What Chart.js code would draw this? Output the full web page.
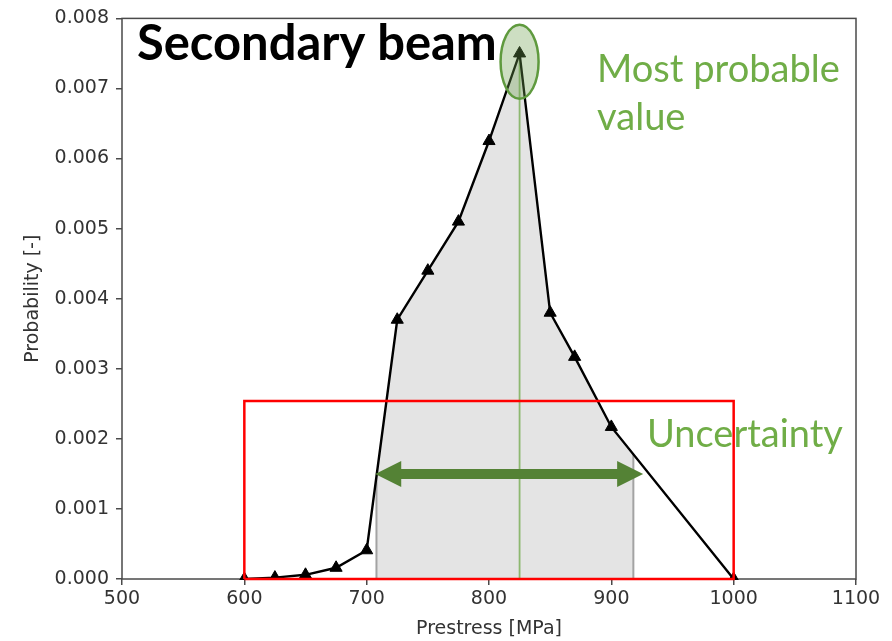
<!DOCTYPE html>
<html>
<head>
<meta charset="utf-8">
<script src="https://cdn.jsdelivr.net/npm/chart.js@4/dist/chart.umd.min.js"></script>
<style>
  html, body { margin: 0; padding: 0; background: #fff; }
  #wrap { width: 892px; height: 641px; }
</style>
</head>
<body>
<div id="wrap"><canvas id="chart" width="892" height="641"></canvas></div>
<script>
// --- data ---
const prestress = [600, 625, 650, 675, 700, 725, 750, 775, 800, 825, 850, 870, 900, 1000];
const probability = [0, 0.00002, 0.00006, 0.00016, 0.00041, 0.0037, 0.0044, 0.0051, 0.00625, 0.0075, 0.0038, 0.00317, 0.00217, 0];
const xTicks = [500, 600, 700, 800, 900, 1000, 1100];
const yTicks = [0, 0.001, 0.002, 0.003, 0.004, 0.005, 0.006, 0.007, 0.008];

// annotations (in data units)
const shadeRange = [708, 918];
const modeValue = 825;
const boxX = [600, 1000];
const boxY = [0, 0.00254];
const arrowX = [707, 926];
const arrowY = 0.0015;
const ellipseAt = [825, 0.00738];

const tickFont = { family: 'DejaVu Sans', size: 19 };

function fitSize(ctx, text, weight, family, width) {
  ctx.font = `${weight} 100px ${family}`;
  return 100 * width / ctx.measureText(text).width;
}

// grey shaded band under the curve + edge lines + mode line
const shadePlugin = {
  id: 'shade',
  beforeDatasetsDraw(chart) {
    const { ctx, chartArea } = chart;
    const xs = chart.scales.x, ys = chart.scales.y;
    const pts = chart.getDatasetMeta(1).data;
    const base = ys.getPixelForValue(0);

    ctx.save();
    ctx.beginPath();
    ctx.moveTo(pts[0].x, base);
    pts.forEach(p => ctx.lineTo(p.x, p.y));
    ctx.lineTo(pts[pts.length - 1].x, base);
    ctx.closePath();
    ctx.clip();

    const xa = xs.getPixelForValue(shadeRange[0]);
    const xb = xs.getPixelForValue(shadeRange[1]);
    ctx.fillStyle = '#e4e4e4';
    ctx.fillRect(xa, chartArea.top, xb - xa, base - chartArea.top);

    ctx.strokeStyle = '#a3a3a3';
    ctx.lineWidth = 2;
    [xa, xb].forEach(x => {
      ctx.beginPath();
      ctx.moveTo(x, base);
      ctx.lineTo(x, chartArea.top);
      ctx.stroke();
    });

    const xm = xs.getPixelForValue(modeValue);
    ctx.strokeStyle = '#8db870';
    ctx.lineWidth = 1.8;
    ctx.beginPath();
    ctx.moveTo(xm, base);
    ctx.lineTo(xm, chartArea.top);
    ctx.stroke();
    ctx.restore();

    // frame round the plot
    ctx.save();
    ctx.strokeStyle = '#4a4a4a';
    ctx.lineWidth = 1.5;
    ctx.strokeRect(chartArea.left, chartArea.top, chartArea.right - chartArea.left, chartArea.bottom - chartArea.top);
    ctx.restore();
  }
};

// ellipse, arrow and labels on top
const overlayPlugin = {
  id: 'overlay',
  afterDatasetsDraw(chart) {
    const { ctx } = chart;
    const xs = chart.scales.x, ys = chart.scales.y;
    ctx.save();

    // ellipse round the peak
    const ex = xs.getPixelForValue(ellipseAt[0]);
    const ey = ys.getPixelForValue(ellipseAt[1]);
    ctx.beginPath();
    ctx.ellipse(ex, ey, 19, 37, 0, 0, Math.PI * 2);
    ctx.fillStyle = 'rgba(112, 160, 80, 0.35)';
    ctx.fill();
    ctx.strokeStyle = '#5f9a3e';
    ctx.lineWidth = 2.5;
    ctx.stroke();

    // double arrow
    const x1 = xs.getPixelForValue(arrowX[0]);
    const x2 = xs.getPixelForValue(arrowX[1]);
    const y = ys.getPixelForValue(arrowY);
    const hl = 26, hh = 13, sh = 5;
    ctx.beginPath();
    ctx.moveTo(x1, y);
    ctx.lineTo(x1 + hl, y - hh);
    ctx.lineTo(x1 + hl, y - sh);
    ctx.lineTo(x2 - hl, y - sh);
    ctx.lineTo(x2 - hl, y - hh);
    ctx.lineTo(x2, y);
    ctx.lineTo(x2 - hl, y + hh);
    ctx.lineTo(x2 - hl, y + sh);
    ctx.lineTo(x1 + hl, y + sh);
    ctx.lineTo(x1 + hl, y + hh);
    ctx.closePath();
    ctx.fillStyle = '#548235';
    ctx.fill();

    // text
    ctx.textBaseline = 'alphabetic';
    ctx.textAlign = 'left';
    let s = fitSize(ctx, 'Secondary beam', 'bold', 'Lato', 360);
    ctx.font = `bold ${s}px Lato`;
    ctx.fillStyle = '#000';
    ctx.fillText('Secondary beam', 137, 60);

    ctx.fillStyle = '#70ad47';
    s = fitSize(ctx, 'Most probable', 'normal', 'Lato', 243);
    ctx.font = `${s}px Lato`;
    ctx.fillText('Most probable', 597, 82);
    ctx.fillText('value', 597, 130);

    s = fitSize(ctx, 'Uncertainty', 'normal', 'Lato', 196);
    ctx.font = `${s}px Lato`;
    ctx.fillText('Uncertainty', 647, 447);

    ctx.restore();
  }
};

const boxPoints = [
  { x: boxX[0], y: boxY[0] },
  { x: boxX[0], y: boxY[1] },
  { x: boxX[1], y: boxY[1] },
  { x: boxX[1], y: boxY[0] },
  { x: boxX[0], y: boxY[0] }
];

new Chart(document.getElementById('chart'), {
  type: 'scatter',
  data: {
    datasets: [
      {
        label: 'box',
        data: boxPoints,
        showLine: true,
        borderColor: '#ff0000',
        borderWidth: 2.5,
        pointRadius: 0,
        fill: false,
        clip: false
      },
      {
        label: 'Probability',
        data: prestress.map((x, i) => ({ x, y: probability[i] })),
        showLine: true,
        borderColor: '#000',
        borderWidth: 2.4,
        pointStyle: 'triangle',
        pointRadius: 7,
        pointBackgroundColor: '#000',
        pointBorderColor: '#000',
        pointBorderWidth: 1,
        fill: false,
        clip: 1
      }
    ]
  },
  options: {
    responsive: false,
    devicePixelRatio: 1,
    animation: false,
    layout: { padding: { left: 0, right: 36, top: 18, bottom: 0 } },
    plugins: { legend: { display: false }, tooltip: { enabled: false } },
    scales: {
      x: {
        type: 'linear',
        min: 500,
        max: 1100,
        afterBuildTicks: (scale) => { scale.ticks = xTicks.map(v => ({ value: v })); },
        afterFit: (scale) => { scale.height = 62; },
        border: { display: false },
        grid: { drawOnChartArea: false, drawTicks: true, tickLength: 6, color: '#4a4a4a', lineWidth: 1.5 },
        ticks: { color: '#333', font: tickFont, padding: 3, maxRotation: 0, callback: v => String(v) },
        title: { display: true, text: 'Prestress [MPa]', color: '#333', font: tickFont, padding: { top: 0, bottom: 1 } }
      },
      y: {
        type: 'linear',
        min: 0,
        max: 0.008,
        afterBuildTicks: (scale) => { scale.ticks = yTicks.map(v => ({ value: v })); },
        afterFit: (scale) => { scale.width = 122; },
        border: { display: false },
        grid: { drawOnChartArea: false, drawTicks: true, tickLength: 6, color: '#4a4a4a', lineWidth: 1.5 },
        ticks: { color: '#333', font: tickFont, padding: 7, callback: v => v.toFixed(3) },
        title: { display: true, text: 'Probability [-]', color: '#333', font: tickFont, padding: { top: 22, bottom: 0 } }
      }
    }
  },
  plugins: [shadePlugin, overlayPlugin]
});
</script>
</body>
</html>
